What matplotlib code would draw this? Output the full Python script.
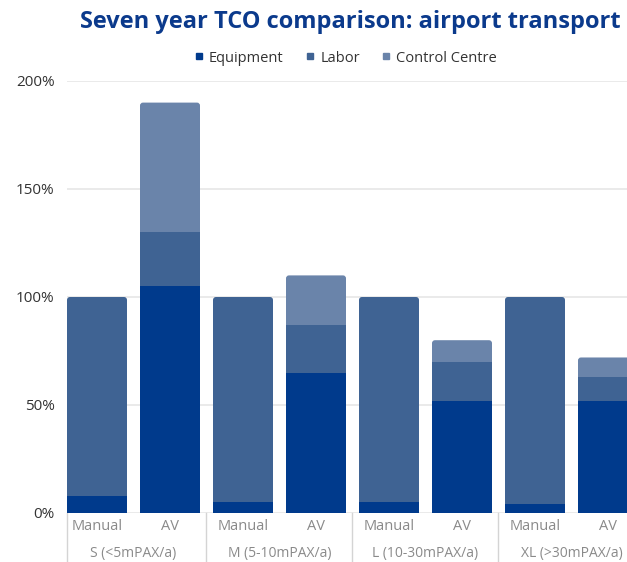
import matplotlib
matplotlib.use("Agg")
import matplotlib.pyplot as plt
from matplotlib.patches import FancyBboxPatch
from matplotlib.lines import Line2D
import matplotlib.transforms as mtransforms

plt.rcParams['font.family'] = ['Open Sans', 'DejaVu Sans']

# data (share of manual 7-year TCO, %)
groups = ['S (<5mPAX/a)', 'M (5-10mPAX/a)', 'L (10-30mPAX/a)', 'XL (>30mPAX/a)']
bar_labels = ['Manual', 'AV'] * 4
equipment = [8, 105, 5, 65, 5, 52, 4, 52]
labor = [92, 25, 95, 22, 95, 18, 96, 11]
control_centre = [0, 60, 0, 23, 0, 10, 0, 9]
series_names = ['Equipment', 'Labor', 'Control Centre']
colors = ['#003a8c', '#3f6393', '#6a84aa']

W, H = 627, 562
fig = plt.figure(figsize=(W / 100, H / 100), dpi=100)

width = 60 / 73
x = list(range(len(bar_labels)))
x_left = -width / 2
x_right = 7.5
ax_left = 67
ax_right = ax_left + (x_right - x_left) * 73
ax_bottom, ax_top = 513, 81
ax = fig.add_axes([ax_left / W, 1 - ax_bottom / H,
                   (ax_right - ax_left) / W, (ax_bottom - ax_top) / H])
ax.set_xlim(x_left, x_right)
ax.set_ylim(0, 200)

# rounding: ~3px radius in both directions
px_x = 1 / 73
px_y = 200 / (ax_bottom - ax_top)
r = 3 * px_x
aspect = px_y / px_x

stack = [equipment, labor, control_centre]
for i in x:
    vals = [s[i] for s in stack]
    top_idx = max(k for k, v in enumerate(vals) if v > 0)
    total = sum(vals)
    # top segment with rounded corners, extended below zero (clipped)
    patch = FancyBboxPatch((i - width / 2, -10), width, total + 10,
                           boxstyle=f"round,pad=0,rounding_size={r}",
                           mutation_aspect=aspect, facecolor=colors[top_idx],
                           edgecolor='none', zorder=2)
    ax.add_patch(patch)

bottom = [0] * len(x)
for k in range(2):
    vals = stack[k]
    # only draw segments that are not the top one
    draw = []
    for i in x:
        nxt = sum(s[i] for s in stack[k + 1:])
        draw.append(vals[i] if nxt > 0 else 0)
    ax.bar(x, draw, width=width, bottom=bottom, color=colors[k], zorder=3,
           linewidth=0)
    bottom = [b + v for b, v in zip(bottom, vals)]

ax.set_yticks([0, 50, 100, 150, 200])
ax.set_yticklabels(['0%', '50%', '100%', '150%', '200%'])
ax.yaxis.grid(True, color='#e6e6e6', linewidth=1.2, zorder=0)
ax.set_axisbelow(True)
ax.tick_params(axis='y', length=0, pad=9, labelsize=11, labelcolor='#333333')

ax.set_xticks(x)
ax.set_xticklabels(bar_labels)
ax.tick_params(axis='x', length=0, pad=4.5, labelsize=10.5, labelcolor='#8a8a8a')

for s in ax.spines.values():
    s.set_visible(False)

trans = mtransforms.blended_transform_factory(ax.transData, ax.transAxes)
seps = [x_left, 1.5, 3.5, 5.5]
for sx in seps:
    ax.plot([sx, sx], [0, -0.11], transform=trans, color='#d4d4d4',
            linewidth=1, clip_on=False)
for g, name in enumerate(groups):
    ax.text(2 * g + 0.5, -0.093, name, transform=trans, ha='center', va='center',
            fontsize=10, color='#8a8a8a')

fig.text(621 / W, 1 - 22 / H, 'Seven year TCO comparison: airport transport',
         ha='right', va='center', fontsize=17, fontweight='bold', color='#0b3a8c')

handles = [Line2D([], [], marker='s', linestyle='none', markersize=4.5,
                  color=c) for c in colors]
fig.legend(handles, series_names, loc='center', bbox_to_anchor=(345 / W, 1 - 58 / H),
           ncol=3, frameon=False, fontsize=10.5, labelcolor='#333333',
           handletextpad=0.3, columnspacing=1.4, handlelength=0.8)

fig.savefig('out.png', dpi=100)
